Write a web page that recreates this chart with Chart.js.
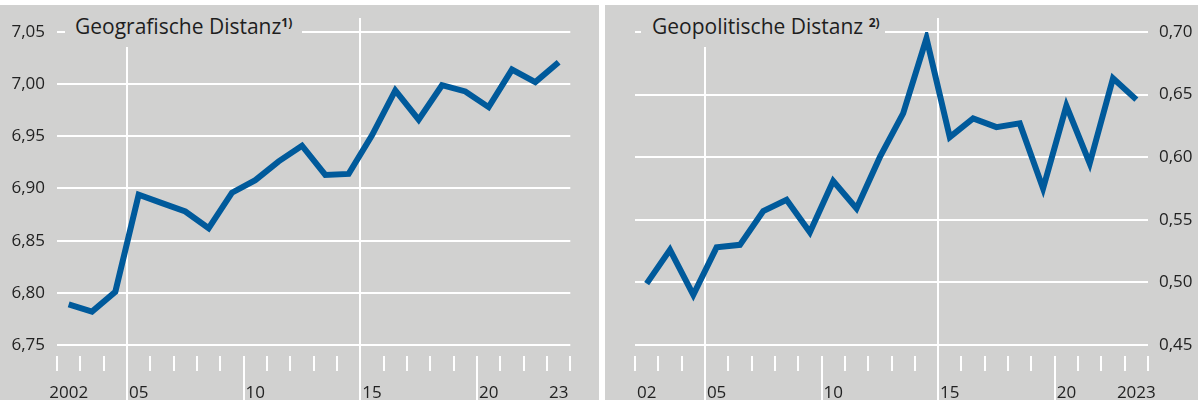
<!DOCTYPE html>
<html><head><meta charset="utf-8">
<script src="https://cdn.jsdelivr.net/npm/chart.js@4.4.1/dist/chart.umd.min.js"></script>
<style>
html,body{margin:0;padding:0;background:#fff;width:1198px;height:400px;overflow:hidden;font-family:"Open Sans",sans-serif;}
.panel{position:absolute;top:5px;height:395px;background:#d1d1d0;}
#pl{left:0;width:599px;}
#pr{left:605px;width:593px;}
canvas{position:absolute;left:0;top:0;}
.title{position:absolute;top:0;height:42px;background:#d1d1d0;color:#1e1e1e;font-size:21px;line-height:21px;white-space:nowrap;}
.title .t{position:absolute;top:11px;}
.title sup{font-size:12px;line-height:12px;font-weight:bold;vertical-align:top;position:relative;top:1px;}
</style>
</head><body>
<div class="panel" id="pl">
  <canvas id="cl" width="599" height="395"></canvas>
  <div class="title" style="left:65px;width:237px;"><span class="t" style="left:10px;">Geografische Distanz<sup>1)</sup></span></div>
</div>
<div class="panel" id="pr">
  <canvas id="cr" width="593" height="395"></canvas>
  <div class="title" style="left:36px;width:244px;"><span class="t" style="left:11px;">Geopolitische Distanz <sup>2)</sup></span></div>
</div>
<script>
// ---- data ----
const years = ['2002','2003','2004','2005','2006','2007','2008','2009','2010','2011','2012','2013','2014','2015','2016','2017','2018','2019','2020','2021','2022','2023'];
const geoDistance = [6.789, 6.782, 6.801, 6.894, 6.886, 6.878, 6.862, 6.896, 6.908, 6.926, 6.941, 6.913, 6.914, 6.951, 6.994, 6.966, 6.999, 6.993, 6.978, 7.014, 7.002, 7.021];
const geopolDistance = [0.499, 0.526, 0.490, 0.528, 0.530, 0.557, 0.566, 0.540, 0.581, 0.559, 0.600, 0.635, 0.695, 0.616, 0.631, 0.624, 0.627, 0.575, 0.641, 0.595, 0.663, 0.646];
const leftXTickYears = ['2002','2005','2010','2015','2020','2023'];
const leftXTickLabels = ['2002','05','10','15','20','23'];
const rightXTickYears = ['2002','2005','2010','2015','2020','2023'];
const rightXTickLabels = ['02','05','10','15','20','2023'];
const leftYTickLabels = ['6,75','6,80','6,85','6,90','6,95','7,00','7,05'];
const rightYTickLabels = ['0,45','0,50','0,55','0,60','0,65','0,70'];
const majorYears = ['2005','2015'];
const midYears = ['2010','2020'];

const BLUE = '#005a9b';
const TEXT = '#222222';
const FONT = {family:'"Open Sans", sans-serif', size:17};

const decor = {
  id:'decor',
  beforeDatasetsDraw(chart){
    const xs = chart.scales.x, ctx = chart.ctx, ca = chart.chartArea, H = chart.height;
    ctx.save();
    ctx.strokeStyle = '#ffffff';
    ctx.lineWidth = 2;
    const n = years.length;
    for (let i = 0; i <= n; i++) {
      const px = Math.round(xs.getPixelForValue(i - 0.5));
      const yr = years[i];
      let y0 = ca.bottom + 11, y1 = ca.bottom + 26;
      if (majorYears.includes(yr)) { y0 = 13; y1 = H; }
      else if (midYears.includes(yr)) { y1 = H; }
      ctx.beginPath();
      ctx.moveTo(px, y0);
      ctx.lineTo(px, y1);
      ctx.stroke();
    }
    ctx.restore();
  }
};

function makeChart(id, data, tickYears, tickLabels, yLabels, yMin, yMax, yPos, padding, yWidth, yPad) {
  return new Chart(document.getElementById(id), {
    type:'line',
    data:{labels:years, datasets:[{data:data, borderColor:BLUE, borderWidth:6, pointRadius:0, tension:0, fill:false, borderJoinStyle:'miter', borderCapStyle:'butt'}]},
    options:{
      responsive:false, animation:false, devicePixelRatio:1,
      layout:{padding:padding},
      plugins:{legend:{display:false}, tooltip:{enabled:false}, title:{display:false}},
      scales:{
        x:{type:'category', offset:true,
           grid:{display:false}, border:{display:false},
           ticks:{autoSkip:false, maxRotation:0, minRotation:0, padding:30, color:TEXT, font:FONT,
             callback:function(v, i){ const k = tickYears.indexOf(years[i]); return k >= 0 ? tickLabels[k] : ''; }},
           afterFit:function(s){ s.height = 55; }},
        y:{position:yPos, min:yMin, max:yMax,
           grid:{color:'#ffffff', lineWidth:2, drawTicks:false}, border:{display:false},
           ticks:{stepSize:0.05, padding:yPad, color:TEXT, font:FONT,
             callback:function(v){ return yLabels[Math.round((v - yMin) / 0.05)]; }},
           afterFit:function(s){ s.width = yWidth; }}
      }
    },
    plugins:[decor]
  });
}

makeChart('cl', geoDistance, leftXTickYears, leftXTickLabels, leftYTickLabels, 6.75, 7.05, 'left', {top:27, right:28, left:0, bottom:0}, 57, 12);
makeChart('cr', geopolDistance, rightXTickYears, rightXTickLabels, rightYTickLabels, 0.45, 0.70, 'right', {top:27, right:0, left:30, bottom:0}, 50, 11);
</script>
</body></html>
